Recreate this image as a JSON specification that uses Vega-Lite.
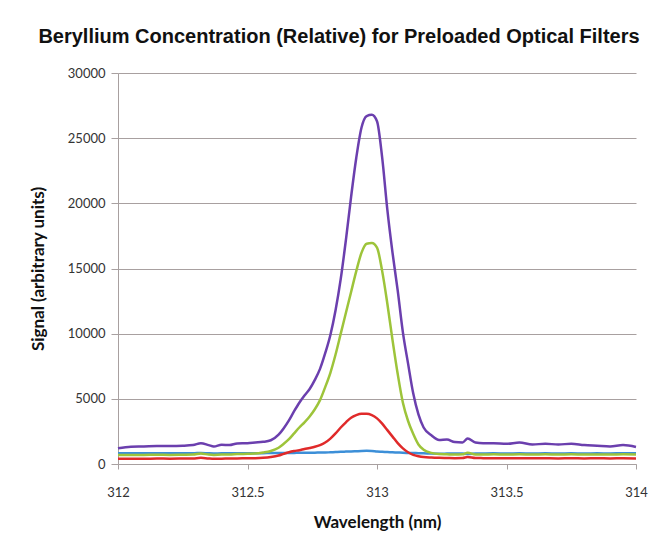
{
  "$schema": "https://vega.github.io/schema/vega-lite/v6.json",
  "autosize": "none",
  "width": 518,
  "height": 391,
  "padding": {"left": 118, "top": 73, "right": 26, "bottom": 73},
  "background": "white",
  "title": {
    "text": "Beryllium Concentration (Relative) for Preloaded Optical Filters",
    "font": "Liberation Sans",
    "fontSize": 20,
    "fontWeight": "bold",
    "color": "#111111",
    "anchor": "middle",
    "frame": "group",
    "dx": -38,
    "offset": 20
  },
  "data": {
    "values": [
      {"w": 312.00, "p": 1200, "g": 690, "b": 820, "r": 400},
      {"w": 312.05, "p": 1330, "g": 700, "b": 830, "r": 410},
      {"w": 312.10, "p": 1350, "g": 700, "b": 820, "r": 400},
      {"w": 312.15, "p": 1380, "g": 710, "b": 830, "r": 420},
      {"w": 312.20, "p": 1380, "g": 700, "b": 820, "r": 410},
      {"w": 312.25, "p": 1400, "g": 710, "b": 830, "r": 420},
      {"w": 312.29, "p": 1450, "g": 720, "b": 820, "r": 430},
      {"w": 312.32, "p": 1600, "g": 800, "b": 850, "r": 470},
      {"w": 312.35, "p": 1450, "g": 720, "b": 820, "r": 420},
      {"w": 312.37, "p": 1340, "g": 700, "b": 810, "r": 400},
      {"w": 312.40, "p": 1480, "g": 720, "b": 820, "r": 410},
      {"w": 312.43, "p": 1450, "g": 720, "b": 820, "r": 420},
      {"w": 312.46, "p": 1580, "g": 760, "b": 830, "r": 430},
      {"w": 312.50, "p": 1600, "g": 780, "b": 820, "r": 440},
      {"w": 312.53, "p": 1650, "g": 800, "b": 830, "r": 450},
      {"w": 312.56, "p": 1700, "g": 880, "b": 830, "r": 480},
      {"w": 312.59, "p": 1820, "g": 1000, "b": 840, "r": 540},
      {"w": 312.62, "p": 2250, "g": 1250, "b": 840, "r": 650},
      {"w": 312.64, "p": 2750, "g": 1550, "b": 850, "r": 780},
      {"w": 312.66, "p": 3350, "g": 1900, "b": 850, "r": 900},
      {"w": 312.68, "p": 4050, "g": 2350, "b": 850, "r": 990},
      {"w": 312.70, "p": 4700, "g": 2800, "b": 860, "r": 1060},
      {"w": 312.72, "p": 5250, "g": 3200, "b": 860, "r": 1150},
      {"w": 312.74, "p": 5750, "g": 3650, "b": 870, "r": 1230},
      {"w": 312.76, "p": 6450, "g": 4200, "b": 870, "r": 1320},
      {"w": 312.78, "p": 7300, "g": 4900, "b": 880, "r": 1450},
      {"w": 312.80, "p": 8500, "g": 5900, "b": 880, "r": 1650},
      {"w": 312.82, "p": 9900, "g": 7000, "b": 900, "r": 1950},
      {"w": 312.84, "p": 11800, "g": 8400, "b": 920, "r": 2350},
      {"w": 312.86, "p": 14200, "g": 10000, "b": 940, "r": 2800},
      {"w": 312.88, "p": 17200, "g": 11600, "b": 950, "r": 3200},
      {"w": 312.90, "p": 20500, "g": 13200, "b": 960, "r": 3550},
      {"w": 312.92, "p": 23500, "g": 14800, "b": 980, "r": 3750},
      {"w": 312.94, "p": 25800, "g": 16200, "b": 1000, "r": 3850},
      {"w": 312.96, "p": 26700, "g": 16900, "b": 1010, "r": 3850},
      {"w": 312.98, "p": 26800, "g": 16950, "b": 1000, "r": 3750},
      {"w": 313.00, "p": 26300, "g": 16600, "b": 960, "r": 3500},
      {"w": 313.02, "p": 23500, "g": 14800, "b": 940, "r": 3100},
      {"w": 313.04, "p": 19500, "g": 12300, "b": 920, "r": 2600},
      {"w": 313.06, "p": 16200, "g": 9500, "b": 900, "r": 2100},
      {"w": 313.08, "p": 13300, "g": 6900, "b": 880, "r": 1600},
      {"w": 313.10, "p": 10100, "g": 4700, "b": 860, "r": 1200},
      {"w": 313.12, "p": 7700, "g": 3300, "b": 850, "r": 900},
      {"w": 313.14, "p": 5400, "g": 2300, "b": 840, "r": 700},
      {"w": 313.16, "p": 3800, "g": 1500, "b": 830, "r": 600},
      {"w": 313.18, "p": 2800, "g": 1100, "b": 820, "r": 530},
      {"w": 313.21, "p": 2200, "g": 850, "b": 800, "r": 490},
      {"w": 313.24, "p": 1850, "g": 760, "b": 790, "r": 470},
      {"w": 313.27, "p": 1880, "g": 740, "b": 800, "r": 460},
      {"w": 313.30, "p": 1680, "g": 720, "b": 810, "r": 450},
      {"w": 313.33, "p": 1650, "g": 740, "b": 800, "r": 460},
      {"w": 313.35, "p": 1950, "g": 870, "b": 770, "r": 540},
      {"w": 313.38, "p": 1650, "g": 730, "b": 800, "r": 460},
      {"w": 313.41, "p": 1600, "g": 720, "b": 810, "r": 450},
      {"w": 313.45, "p": 1600, "g": 740, "b": 820, "r": 440},
      {"w": 313.50, "p": 1550, "g": 730, "b": 810, "r": 450},
      {"w": 313.55, "p": 1650, "g": 740, "b": 820, "r": 440},
      {"w": 313.60, "p": 1500, "g": 730, "b": 810, "r": 450},
      {"w": 313.65, "p": 1550, "g": 740, "b": 820, "r": 440},
      {"w": 313.70, "p": 1500, "g": 730, "b": 810, "r": 430},
      {"w": 313.75, "p": 1550, "g": 740, "b": 820, "r": 440},
      {"w": 313.80, "p": 1450, "g": 720, "b": 810, "r": 430},
      {"w": 313.85, "p": 1400, "g": 730, "b": 820, "r": 440},
      {"w": 313.90, "p": 1350, "g": 720, "b": 810, "r": 430},
      {"w": 313.95, "p": 1450, "g": 740, "b": 830, "r": 440},
      {"w": 314.00, "p": 1300, "g": 730, "b": 820, "r": 430}
    ]
  },
  "transform": [
    {"fold": ["b", "r", "g", "p"], "as": ["series", "signal"]}
  ],
  "mark": {"type": "line", "strokeWidth": 2.5, "interpolate": "monotone"},
  "encoding": {
    "x": {
      "field": "w",
      "type": "quantitative",
      "scale": {"domain": [312, 314], "nice": false, "zero": false},
      "axis": {
        "title": "Wavelength (nm)",
        "values": [312, 312.5, 313, 313.5, 314],
        "format": "~f",
        "grid": false,
        "domainColor": "#a8a0a0",
        "tickColor": "#a8a0a0",
        "tickSize": 5,
        "labelPadding": 17,
        "labelFlush": false,
        "labelFont": "Lato",
        "labelFontSize": 13,
        "labelColor": "#333333",
        "titleFont": "Lato",
        "titleFontSize": 17,
        "titleFontWeight": "bold",
        "titleColor": "#111111",
        "titlePadding": 15
      }
    },
    "y": {
      "field": "signal",
      "type": "quantitative",
      "scale": {"domain": [0, 30000], "nice": false},
      "axis": {
        "title": "Signal (arbitrary units)",
        "values": [0, 5000, 10000, 15000, 20000, 25000, 30000],
        "format": "d",
        "grid": true,
        "gridColor": "#a8a0a0",
        "gridOpacity": 1,
        "domainColor": "#a8a0a0",
        "tickColor": "#a8a0a0",
        "tickSize": 7,
        "labelPadding": 6,
        "labelFont": "Lato",
        "labelFontSize": 13,
        "labelColor": "#333333",
        "titleFont": "Lato",
        "titleFontSize": 17,
        "titleFontWeight": "bold",
        "titleColor": "#111111",
        "titlePadding": 20
      }
    },
    "color": {
      "field": "series",
      "type": "nominal",
      "scale": {"domain": ["p", "g", "r", "b"], "range": ["#6B3FAE", "#9DC43A", "#E02A2A", "#3C8FD8"]},
      "legend": null
    },
    "order": {"field": "w", "type": "quantitative"}
  },
  "config": {
    "view": {"stroke": null}
  }
}
